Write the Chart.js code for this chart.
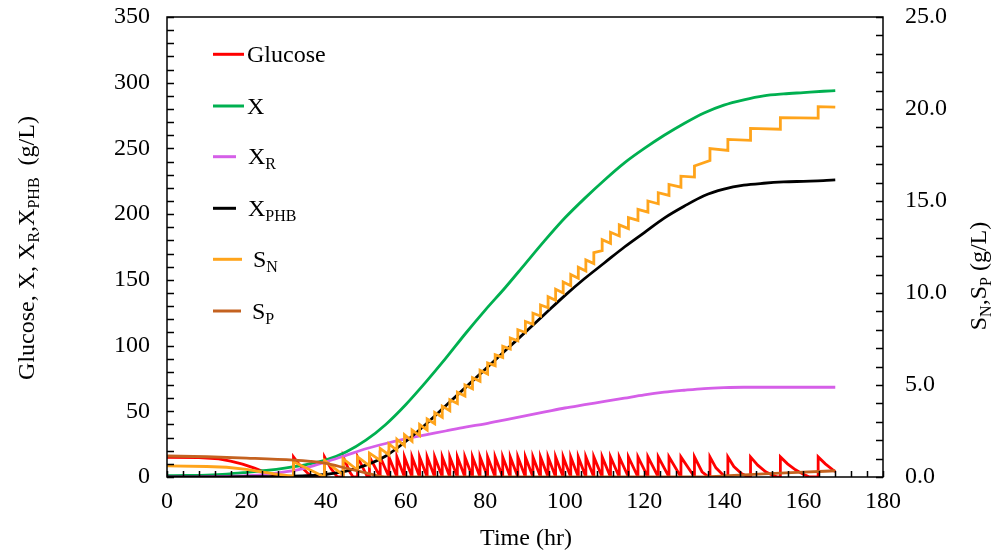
<!DOCTYPE html>
<html><head><meta charset="utf-8">
<script src="https://cdn.jsdelivr.net/npm/chart.js@4.4.1/dist/chart.umd.min.js"></script>
<style>html,body{margin:0;padding:0;background:#fff}</style>
</head><body>
<canvas id="c" width="998" height="554"></canvas>
<script>
// ---------- data ----------
const timeGrid = [0,5,10,15,20,25,30,35,40,45,50,55,60,65,70,75,80,85,90,95,100,105,110,115,120,125,130,135,140,145,150,155,160,165,168];
const X    = [1,1.2,1.5,2.2,3.5,5,7,9.5,13,19,28,40,55,72,90,109,127,144,162,180,197,212,226,239,250,260,269,277,283,287,290,291.5,292.5,293.5,294];
const XR   = [0,0.1,0.2,0.5,1,2,4,7,11.5,16.5,21.5,25.5,29,32,35,38,40.5,43.5,46.5,49.5,52.5,55,57.5,60,62.5,64.5,66,67.3,68,68.3,68.3,68.3,68.3,68.3,68.3];
const XPHB = [0,0,0,0.1,0.2,0.3,0.5,1,2,4.5,9,16,27,40,54,68,82,96,110,124,138,151,163,175,186,197,206,214,219,222,223.5,224.5,225,225.5,226];

// feeding pulses (hr)
const feedTimes = [31.8,39.6,44.3,47.9,50.9,53.6,55.8,57.8,59.7,61.6,63.5,65.4,67.3,69.2,71.1,73.0,74.9,76.8,78.7,80.6,82.5,84.4,86.3,88.2,90.1,92.0,93.9,95.8,97.7,99.6,101.5,103.4,105.3,107.3,109.4,111.5,113.7,116.0,118.4,120.9,123.5,126.2,129.2,132.6,136.5,141.0,146.7,154.2,163.7];
// S_N just before / just after each pulse (g/L, right axis)
const snBefore = [0.04,0.0,0.1,0.38,0.6,0.9,1.2,1.45,1.7,1.95,2.25,2.55,2.9,3.25,3.6,4.0,4.4,4.8,5.2,5.6,6.05,6.5,6.95,7.4,7.85,8.3,8.75,9.2,9.6,10.0,10.4,10.8,11.2,11.6,12.3,12.7,13.1,13.5,13.95,14.4,14.85,15.3,15.75,16.3,17.2,17.75,18.3,18.9,19.5];
const snAfter  = [0.83,0.9,0.98,1.1,1.3,1.55,1.8,2.05,2.3,2.55,2.85,3.15,3.5,3.85,4.2,4.6,5.0,5.4,5.8,6.2,6.65,7.1,7.55,8.0,8.45,8.9,9.35,9.8,10.2,10.6,11.0,11.4,11.8,12.2,12.9,13.3,13.7,14.1,14.55,15.0,15.45,15.9,16.35,16.9,17.85,18.35,18.95,19.53,20.13];
const snStartT = [0,10,15,20,23.4,27,30];
const snStartV = [0.6,0.57,0.53,0.42,0.29,0.17,0.09];
const snEnd = [168,20.1];

const spT = [0,10,20,31.8,36,40,45,50,53.7,56,133,140,150,160,168];
const spV = [1.14,1.1,1.03,0.92,0.85,0.74,0.48,0.22,0.03,0,0,0.06,0.17,0.26,0.34];

// glucose (t, g/L) vertices
const glucoseT = [0,8,13,16,19,22,24.5,27,29,31.8,
 31.8,33.5,35.5,37,39.6, 39.6,41.2,42.7,43.2,44.3, 44.3,46,46.8,47.9, 47.9,50.4,50.9, 50.9,53.6, 53.6,55.8, 55.8,57.8,
 57.8,59.7, 59.7,61.6, 61.6,63.5, 63.5,65.4, 65.4,67.3, 67.3,69.2, 69.2,71.1, 71.1,73.0, 73.0,74.9, 74.9,76.8, 76.8,78.7,
 78.7,80.6, 80.6,82.5, 82.5,84.4, 84.4,86.3, 86.3,88.2, 88.2,90.1, 90.1,92.0, 92.0,93.9, 93.9,95.8, 95.8,97.7, 97.7,99.6,
 99.6,101.5, 101.5,103.4, 103.4,105.3, 105.3,107.3, 107.3,109.4, 109.4,111.5, 111.5,113.7, 113.7,116.0, 116.0,118.4,
 118.4,120.9, 120.9,123.5, 123.5,126.2, 126.2,129.2, 129.2,132.6,
 132.6,134.5,136,136.5, 136.5,138,140,141, 141,142.5,144.5,146,146.7, 146.7,148.5,150.5,152.5,153.5,154.2,
 154.2,156,158,160,161.5,163.7, 163.7,165.5,168];
const glucoseV = [15,14.8,13.8,12,9.8,6.8,3.8,1.2,0,0,
 15.3,8.5,2.5,0,0, 15.3,6.5,0.5,0,0, 15.3,3.5,0,0, 15.3,0,0, 15.3,0, 15.3,0, 15.3,0,
 15.3,0, 15.3,0, 15.3,0, 15.3,0, 15.3,0, 15.3,0, 15.3,0, 15.3,0, 15.3,0, 15.3,0, 15.3,0,
 15.3,0, 15.3,0, 15.3,0, 15.3,0, 15.3,0, 15.3,0, 15.3,0, 15.3,0, 15.3,0, 15.3,0, 15.3,0,
 15.3,0, 15.3,0, 15.3,0, 15.3,0, 15.3,0, 15.3,0, 15.3,0, 15.3,0, 15.3,0,
 15.3,0, 15.3,0, 15.3,0, 15.3,0, 15.3,0,
 15.3,4,0.3,0, 15.3,7,1,0, 15.3,8,2.5,0.3,0, 15.3,9,4,1,0,0,
 15.3,10,5.5,2,0,0, 15.3,10,4];

// ---------- build point tables ----------
const pts = (ts, vs) => ts.map((t, i) => ({x: t, y: vs[i]}));
const snPts = pts(snStartT, snStartV);
feedTimes.forEach((t, i) => { snPts.push({x: t, y: snBefore[i]}); snPts.push({x: t, y: snAfter[i]}); });
snPts.push({x: snEnd[0], y: snEnd[1]});

const FONT = 'Liberation Serif';
const FS = 24;
const SUB = 16;

const decor = {
  id: 'decor',
  afterDraw(chart) {
    const ctx = chart.ctx, a = chart.chartArea;
    const sx = chart.scales.x, sy = chart.scales.y, sy2 = chart.scales.y2;
    ctx.save();
    ctx.strokeStyle = '#000'; ctx.lineWidth = 1.5;
    ctx.strokeRect(a.left, a.top, a.right - a.left, a.bottom - a.top);
    ctx.beginPath();
    sy.ticks.forEach(t => { const p = Math.round(sy.getPixelForValue(t.value)) + 0.5; ctx.moveTo(a.left, p); ctx.lineTo(a.left + 7, p); });
    sy2.ticks.forEach(t => { const p = Math.round(sy2.getPixelForValue(t.value)) + 0.5; ctx.moveTo(a.right, p); ctx.lineTo(a.right - 7, p); });
    sx.ticks.forEach(t => { const p = Math.round(sx.getPixelForValue(t.value)) + 0.5; ctx.moveTo(p, a.bottom); ctx.lineTo(p, a.bottom - 6); });
    ctx.stroke();

    const rich = (parts, x, y, align, big, small) => {
      let w = 0;
      parts.forEach(p => { ctx.font = (p.s ? small : big) + 'px "' + FONT + '"'; w += ctx.measureText(p.t).width; });
      let cx = align === 'center' ? x - w / 2 : x;
      ctx.textAlign = 'left'; ctx.textBaseline = 'alphabetic'; ctx.fillStyle = '#000';
      parts.forEach(p => {
        ctx.font = (p.s ? small : big) + 'px "' + FONT + '"';
        ctx.fillText(p.t, cx, y + (p.s ? 5 : 0));
        cx += ctx.measureText(p.t).width;
      });
    };
    // left axis title
    ctx.save(); ctx.translate(34, 248); ctx.rotate(-Math.PI / 2);
    rich([{t:'Glucose, X, X'},{t:'R',s:1},{t:',X'},{t:'PHB',s:1},{t:'  (g/L)'}], 0, 0, 'center', FS, SUB);
    ctx.restore();
    // right axis title
    ctx.save(); ctx.translate(986, 276); ctx.rotate(-Math.PI / 2);
    rich([{t:'S'},{t:'N',s:1},{t:',S'},{t:'P',s:1},{t:' (g/L)'}], 0, 0, 'center', FS, SUB);
    ctx.restore();
    // x title
    rich([{t:'Time (hr)'}], 526, 545, 'center', FS, SUB);

    // legend
    const leg = [
      {c:'#FF0000', y:54.3, x2:244, tx:247, parts:[{t:'Glucose'}]},
      {c:'#00B050', y:106, x2:244, tx:247, parts:[{t:'X'}]},
      {c:'#D55FE8', y:156.7, x2:236, tx:248, parts:[{t:'X'},{t:'R',s:1}]},
      {c:'#000000', y:208.3, x2:236, tx:248, parts:[{t:'X'},{t:'PHB',s:1}]},
      {c:'#FFA41B', y:259.3, x2:242, tx:253, parts:[{t:'S'},{t:'N',s:1}]},
      {c:'#C46220', y:311, x2:241, tx:252, parts:[{t:'S'},{t:'P',s:1}]}
    ];
    leg.forEach(l => {
      ctx.strokeStyle = l.c; ctx.lineWidth = 3;
      ctx.beginPath(); ctx.moveTo(213, l.y); ctx.lineTo(l.x2, l.y); ctx.stroke();
      rich(l.parts, l.tx, l.y + 7.5, 'left', FS, SUB);
    });
    ctx.restore();
  }
};

const ds = (label, data, color, axis, order, smooth) => ({
  label, data, borderColor: color, backgroundColor: color, yAxisID: axis, order,
  borderWidth: 2.8, pointRadius: 0, fill: false,
  tension: smooth ? 0.4 : 0, cubicInterpolationMode: smooth ? 'monotone' : 'default'
});

const noPad = s => { s.paddingTop = 0; s.paddingBottom = 0; s.paddingLeft = 0; s.paddingRight = 0; };

new Chart(document.getElementById('c'), {
  type: 'line',
  data: {
    datasets: [
      ds('Glucose', pts(glucoseT, glucoseV), '#FF0000', 'y', 6, false),
      ds('X', pts(timeGrid, X), '#00B050', 'y', 5, true),
      ds('X_R', pts(timeGrid, XR), '#D55FE8', 'y', 4, true),
      ds('X_PHB', pts(timeGrid, XPHB), '#000000', 'y', 3, true),
      ds('S_N', snPts, '#FFA41B', 'y2', 2, false),
      ds('S_P', pts(spT, spV), '#C46220', 'y2', 1, true)
    ]
  },
  options: {
    responsive: false, animation: false,
    layout: {padding: {top: 17, left: 0, right: 0, bottom: 0}},
    plugins: {legend: {display: false}, tooltip: {enabled: false}},
    scales: {
      x: {type: 'linear', min: 0, max: 180, position: 'bottom',
        grid: {display: false, drawTicks: false}, border: {display: false},
        ticks: {stepSize: 4, autoSkip: false, maxRotation: 0, color: '#000', padding: 10,
          font: {family: FONT, size: FS}, callback: v => (v % 20 === 0 ? String(v) : '')},
        afterFit: s => { s.height = 77; noPad(s); }},
      y: {type: 'linear', min: 0, max: 350, position: 'left',
        grid: {display: false, drawTicks: false}, border: {display: false},
        ticks: {stepSize: 10, autoSkip: false, color: '#000', padding: 17,
          font: {family: FONT, size: FS}, callback: v => (v % 50 === 0 ? String(v) : '')},
        afterFit: s => { s.width = 167; noPad(s); }},
      y2: {type: 'linear', min: 0, max: 25, position: 'right',
        grid: {display: false, drawTicks: false}, border: {display: false},
        ticks: {stepSize: 1, autoSkip: false, color: '#000', padding: 22,
          font: {family: FONT, size: FS}, callback: v => (v % 5 === 0 ? v.toFixed(1) : '')},
        afterFit: s => { s.width = 115; noPad(s); }}
    }
  },
  plugins: [decor]
});
</script>
</body></html>
